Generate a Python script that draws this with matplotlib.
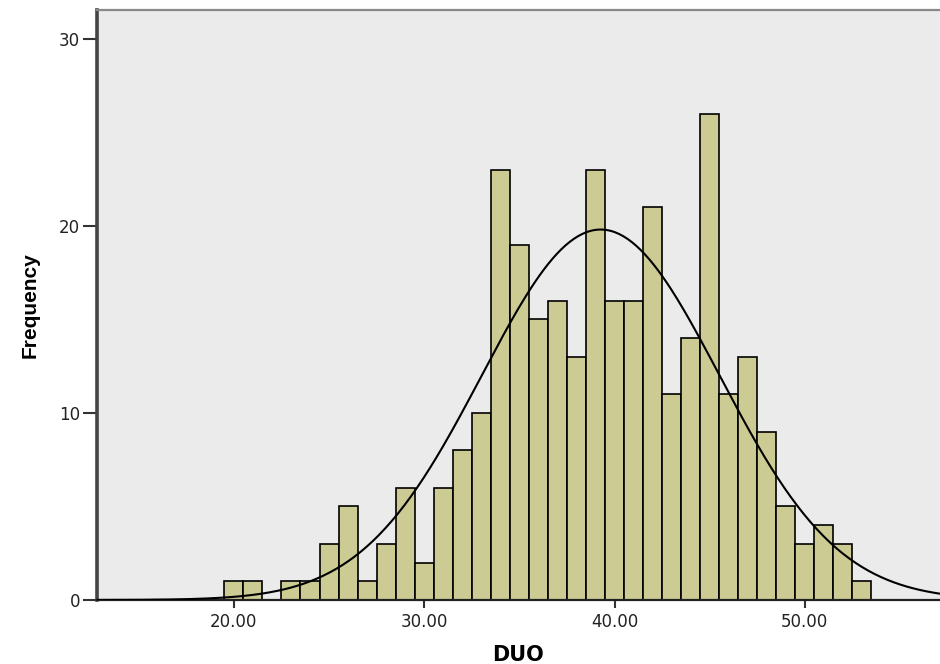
import numpy as np
import matplotlib.pyplot as plt

# Frecuencias por intervalo (anchura 1, centros 20..53)
bin_centers = np.arange(20, 54)
counts = [1, 1, 0, 1, 1, 3, 5, 1, 3, 6, 2, 6, 8, 10, 23, 19, 15, 16, 13, 23,
          16, 16, 21, 11, 14, 26, 11, 13, 9, 5, 3, 4, 3, 1]
x_ticks = [20, 30, 40, 50]
y_ticks = [0, 10, 20, 30]

counts = np.array(counts)
n = counts.sum()
mean = (bin_centers * counts).sum() / n
sd = np.sqrt(((bin_centers - mean) ** 2 * counts).sum() / (n - 1))

fig = plt.figure(figsize=(9.4, 6.64), dpi=100)
ax = fig.add_axes([0.103, 0.0964, 0.897, 0.8886])
ax.set_facecolor("#EBEBEB")

ax.bar(bin_centers, counts, width=1.0, color="#CCCB94", edgecolor="black",
       linewidth=1.2, zorder=2)

# Curva normal ajustada
xs = np.linspace(12.5, 57.5, 400)
ys = n * 1.0 / (sd * np.sqrt(2 * np.pi)) * np.exp(-0.5 * ((xs - mean) / sd) ** 2)
ax.plot(xs, ys, color="black", linewidth=1.5, zorder=3)

ax.set_xlim(12.8, 57.1)
ax.set_ylim(0, 31.55)
ax.set_xticks(x_ticks)
ax.set_xticklabels([f"{t:.2f}" for t in x_ticks])
ax.set_yticks(y_ticks)

ax.tick_params(axis="both", direction="out", colors="#333333", labelsize=12,
               labelcolor="#222222")
ax.tick_params(axis="y", length=10, width=1.5, pad=2)
ax.tick_params(axis="x", length=6, width=1.5)

ax.spines["right"].set_visible(False)
ax.spines["left"].set_linewidth(2.6)
ax.spines["left"].set_color("#444444")
ax.spines["bottom"].set_linewidth(1.6)
ax.spines["bottom"].set_color("#222222")
ax.spines["top"].set_linewidth(1.6)
ax.spines["top"].set_color("#888888")

ax.set_xlabel("DUO", fontsize=15, fontweight="bold", labelpad=10)
ax.set_ylabel("Frequency", fontsize=15, fontweight="bold", labelpad=14,
              family=["Liberation Sans", "DejaVu Sans"])

fig.savefig("out.png", dpi=100)
